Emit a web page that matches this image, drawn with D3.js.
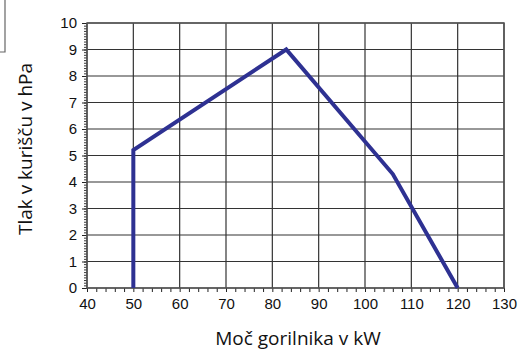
<!DOCTYPE html>
<html>
<head>
<meta charset="utf-8">
<script src="https://cdn.jsdelivr.net/npm/d3@7"></script>
<style>
  body { margin: 0; background: #fff; }
  svg { display: block; }
</style>
</head>
<body>
<div id="chart"></div>
<script>
const W = 524, H = 352;

// data
const power = [50, 50, 83, 106, 120];      // kW
const pressure = [0, 5.2, 9, 4.3, 0];      // hPa
const xTicks = [40, 50, 60, 70, 80, 90, 100, 110, 120, 130];
const yTicks = [0, 1, 2, 3, 4, 5, 6, 7, 8, 9, 10];

// plot area
const X1 = 87, X2 = 504, Y1 = 23, Y2 = 288;

const svg = d3.select("#chart").append("svg")
  .attr("width", W)
  .attr("height", H);

const x = d3.scaleLinear().domain([40, 130]).range([X1, X2]);
const y = d3.scaleLinear().domain([0, 10]).range([Y2, Y1]);

// corner mark at top left
svg.append("path")
  .attr("d", "M5,0V52H0")
  .attr("fill", "none")
  .attr("stroke", "#666")
  .attr("stroke-width", 1.2);

// grid
const grid = svg.append("g");
grid.selectAll(".gx").data(xTicks).enter().append("line")
  .attr("x1", d => x(d)).attr("x2", d => x(d))
  .attr("y1", Y1).attr("y2", Y2)
  .attr("stroke", "#333").attr("stroke-width", 1.2);
grid.selectAll(".gy").data(yTicks).enter().append("line")
  .attr("x1", X1).attr("x2", X2)
  .attr("y1", d => y(d)).attr("y2", d => y(d))
  .attr("stroke", "#333").attr("stroke-width", 1.2);

// x axis with minor ticks every 2
const xAxis = d3.axisBottom(x)
  .tickValues(d3.range(40, 130.1, 2))
  .tickSize(4)
  .tickFormat("");
svg.append("g")
  .attr("transform", `translate(0,${Y2})`)
  .call(xAxis)
  .call(g => g.select(".domain").remove())
  .call(g => g.selectAll("line").attr("stroke", "#222").attr("stroke-width", 1));

svg.append("g")
  .attr("transform", `translate(0,${Y2})`)
  .call(d3.axisBottom(x).tickValues(xTicks).tickSize(0).tickPadding(10))
  .call(g => g.select(".domain").remove())
  .call(g => g.selectAll("text")
    .attr("font-family", "Liberation Sans, Arial, sans-serif")
    .attr("font-size", 15)
    .attr("fill", "#111"));

// y axis with minor ticks every 0.1
const yMinor = d3.range(0, 101).map(d => d / 10);
svg.append("g")
  .attr("transform", `translate(${X1},0)`)
  .call(d3.axisLeft(y).tickValues(yMinor).tickSize(3).tickFormat(""))
  .call(g => g.select(".domain").remove())
  .call(g => g.selectAll("line").attr("stroke", "#222").attr("stroke-width", 0.9));

svg.append("g")
  .attr("transform", `translate(${X1},0)`)
  .call(d3.axisLeft(y).tickValues(yTicks).tickSize(5).tickPadding(5))
  .call(g => g.select(".domain").remove())
  .call(g => g.selectAll("line").attr("stroke", "#222").attr("stroke-width", 1))
  .call(g => g.selectAll("text")
    .attr("font-family", "Liberation Sans, Arial, sans-serif")
    .attr("font-size", 15)
    .attr("fill", "#111"));

// outer frame
svg.append("rect")
  .attr("x", X1).attr("y", Y1)
  .attr("width", X2 - X1).attr("height", Y2 - Y1)
  .attr("fill", "none")
  .attr("stroke", "#555")
  .attr("stroke-width", 1.5);

// curve
const line = d3.line()
  .x((d, i) => x(power[i]))
  .y((d, i) => y(pressure[i]));

svg.append("path")
  .datum(power)
  .attr("d", line)
  .attr("fill", "none")
  .attr("stroke", "#2e3192")
  .attr("stroke-width", 4)
  .attr("stroke-linejoin", "miter");

// axis titles
svg.append("text")
  .attr("x", 298)
  .attr("y", 345)
  .attr("text-anchor", "middle")
  .attr("font-family", "Open Sans, sans-serif")
  .attr("font-size", 19)
  .attr("fill", "#111")
  .text("Moč gorilnika v kW");

svg.append("text")
  .attr("transform", "translate(32,149) rotate(-90)")
  .attr("text-anchor", "middle")
  .attr("font-family", "Open Sans, sans-serif")
  .attr("font-size", 19)
  .attr("fill", "#111")
  .text("Tlak v kurišču v hPa");
</script>
</body>
</html>
